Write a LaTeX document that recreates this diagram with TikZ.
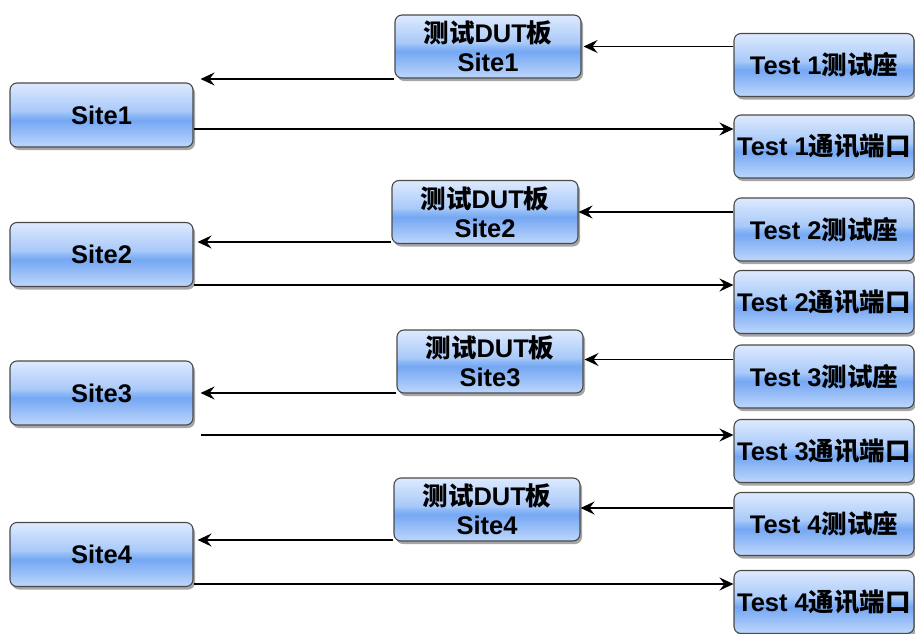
\documentclass[tikz,border=0pt]{standalone}
\usepackage{fontspec}
\setmainfont{Liberation Sans}
\newfontfamily\cjk{Noto Sans CJK SC}
\usetikzlibrary{arrows.meta,shadows}

% glossy blue fill: pale top half, deeper band just below the middle
\definecolor{glossBot}{HTML}{BED7FC}
\definecolor{glossLow}{HTML}{75A7F3}
\definecolor{glossMid}{HTML}{8DB9F6}
\definecolor{glossUp}{HTML}{A9C9F9}
\definecolor{glossTop}{HTML}{DDEAFE}
\definecolor{boxEdge}{HTML}{4A4A4A}
\pgfdeclareverticalshading{gloss}{100bp}{%
  color(0bp)=(glossBot); color(25bp)=(glossBot);
  color(46bp)=(glossLow); color(50bp)=(glossMid);
  color(53bp)=(glossUp); color(75bp)=(glossTop); color(100bp)=(glossTop)}

\tikzset{
  box/.style={draw=boxEdge, line width=1.1pt, rounded corners=7pt,
    shading=gloss, align=center, inner sep=0pt,
    font=\fontsize{25.5}{29}\selectfont\bfseries,
    drop shadow={shadow xshift=2pt, shadow yshift=-3pt, opacity=.35, fill=black}},
  sitebox/.style={box, minimum width=183pt, minimum height=64pt},
  dutbox/.style={box, minimum width=186pt, minimum height=63pt},
  testbox/.style={box, minimum width=180pt, minimum height=63pt},
  arr/.style={line width=1.6pt, -{Stealth[length=14pt,width=13pt,inset=5pt]}},
}

\begin{document}
\begin{tikzpicture}[x=1pt, y=-1pt]
\useasboundingbox (0,0) rectangle (915,634);

% sites on the left
\node[sitebox] (S1) at (101.5,115) {Site1};
\node[sitebox] (S2) at (101.5,254.5) {Site2};
\node[sitebox] (S3) at (101.5,393) {Site3};
\node[sitebox] (S4) at (101.5,554.5) {Site4};

% DUT boards in the middle
\node[dutbox] (D1) at (488,46.5) {{\cjk 测试}DUT{\cjk 板}\\Site1};
\node[dutbox] (D2) at (485,212) {{\cjk 测试}DUT{\cjk 板}\\Site2};
\node[dutbox] (D3) at (490,361.5) {{\cjk 测试}DUT{\cjk 板}\\Site3};
\node[dutbox] (D4) at (487,509.5) {{\cjk 测试}DUT{\cjk 板}\\Site4};

% test sockets and communication ports on the right
\node[testbox] (T1a) at (824,65)    {Test 1{\cjk 测试座}};
\node[testbox] (T1b) at (824,146.5) {Test 1{\cjk 通讯端口}};
\node[testbox] (T2a) at (824,229.5) {Test 2{\cjk 测试座}};
\node[testbox] (T2b) at (824,302)   {Test 2{\cjk 通讯端口}};
\node[testbox] (T3a) at (824,376.5) {Test 3{\cjk 测试座}};
\node[testbox] (T3b) at (824,451)   {Test 3{\cjk 通讯端口}};
\node[testbox] (T4a) at (824,524)   {Test 4{\cjk 测试座}};
\node[testbox] (T4b) at (824,602)   {Test 4{\cjk 通讯端口}};

% free ends of the connectors
\coordinate (e1) at ([xshift=7pt,yshift=36pt]S1.east);
\coordinate (o1) at ([yshift=-14pt]S1.east);
\coordinate (e2) at ([xshift=4pt,yshift=12.5pt]S2.east);
\coordinate (o2) at ([yshift=-30.5pt]S2.east);
\coordinate (e3) at ([xshift=7pt]S3.east);
\coordinate (o3) at ([xshift=7pt,yshift=-42pt]S3.east);
\coordinate (e4) at ([xshift=4pt,yshift=14.5pt]S4.east);
\coordinate (o4) at ([yshift=-29.5pt]S4.east);

% socket -> DUT board
\draw[arr] (T1a.west |- D1.east) -- ([xshift=2pt]D1.east);
\draw[arr] (T2a.west |- D2.east) -- (D2.east);
\draw[arr] ([yshift=2pt]T3a.west |- D3.east) -- ([xshift=1pt,yshift=2pt]D3.east);
\draw[arr] ([yshift=1.5pt]T4a.west |- D4.east) -- ([yshift=1.5pt]D4.east);

% DUT board -> site
\draw[arr] (D1.west |- e1) -- (e1);
\draw[arr] (D2.west |- e2) -- (e2);
\draw[arr] (D3.west |- e3) -- (e3);
\draw[arr] (D4.west |- e4) -- (e4);

% site -> communication port
\draw[arr] (o1) -- (o1 -| T1b.west);
\draw[arr] (o2) -- (o2 -| T2b.west);
\draw[arr] (o3) -- (o3 -| T3b.west);
\draw[arr] (o4) -- (o4 -| T4b.west);
\end{tikzpicture}
\end{document}
